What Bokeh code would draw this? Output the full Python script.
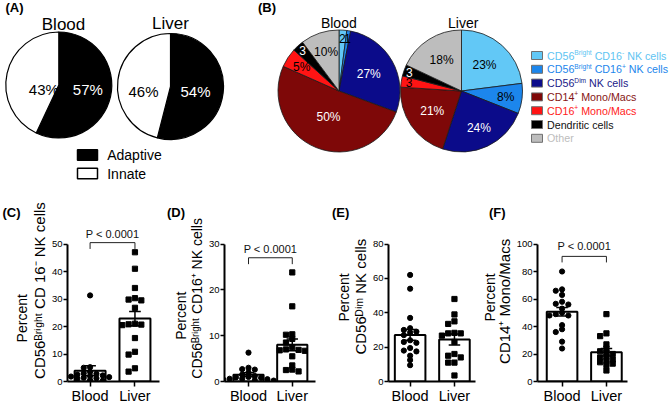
import math
import re
from bokeh.plotting import figure
from bokeh.layouts import column, row
from bokeh.models import Range1d, Label, FixedTicker, ColumnDataSource
from bokeh.embed import file_html
from bokeh.resources import INLINE
from bokeh.core.properties import value

# ---------------- data ----------------
groups = ["Blood", "Liver"]

a_categories = ["Adaptive", "Innate"]
a_blood = [57, 43]
a_liver = [54, 46]

b_categories = ["CD56^{Bright} CD16^{-} NK cells", "CD56^{Bright} CD16^{+} NK cells",
                "CD56^{Dim} NK cells", "CD14^{+} Mono/Macs", "CD16^{+} Mono/Macs",
                "Dendritic cells", "Other"]
b_blood = [2, 1, 27, 50, 5, 3, 10]
b_liver = [23, 8, 24, 21, 3, 3, 18]

c_blood = [31.3, 5.2, 5.0, 3.5, 3.0, 2.8, 2.5, 2.2, 2.0, 1.8, 1.6, 1.4, 1.2, 1.0, 0.8, 0.5, 0.3]
c_liver = [47.0, 41.0, 34.0, 30.3, 29.8, 29.5, 26.8, 21.0, 20.8, 20.7, 20.5, 15.8, 10.8, 9.8, 4.8, 3.6]
c_mean = [3.9, 22.9]
c_sem = [1.8, 2.6]

d_blood = [6.3, 3.0, 2.7, 2.6, 2.0, 1.5, 1.2, 1.0, 0.9, 0.8, 0.6, 0.6, 0.5, 0.4, 0.3, 0.2, 0.2]
d_liver = [23.8, 16.4, 10.3, 10.2, 9.3, 8.5, 7.5, 7.0, 6.9, 6.8, 6.7, 5.5, 3.5, 2.6, 2.5, 2.2]
d_mean = [1.5, 8.0]
d_sem = [0.4, 1.3]

e_blood = [62, 54, 37, 31, 30, 29, 28.5, 27, 24, 23, 22.5, 19.5, 18, 17.5, 15, 12.5, 9.5]
e_liver = [48, 39, 35, 33.5, 28.3, 28, 28, 26.7, 23, 16, 15, 14, 11, 11, 3.5]
e_mean = [27.1, 24.4]
e_sem = [3.1, 3.2]

f_blood = [80, 67, 66, 63, 58, 56.5, 56, 53, 50, 49, 48, 48, 41, 38, 36, 29, 24]
f_liver = [49, 35, 33, 27, 24, 22, 21, 20, 18, 17.5, 16, 15, 14, 13, 12, 8]
f_mean = [50.8, 21.3]
f_sem = [3.1, 2.7]

c_ticks = [0, 10, 20, 30, 40, 50]
d_ticks = [0, 10, 20, 30]
e_ticks = [0, 20, 40, 60, 80]
f_ticks = [0, 20, 40, 60, 80, 100]

y_title_top = "Percent"
y_titles = ["CD56\u1d2e\u02b3\u2071\u1d4d\u02b0\u1d57 CD 16\u207b NK cells",
            "CD56\u1d2e\u02b3\u2071\u1d4d\u02b0\u1d57 CD16\u207a NK cells",
            "CD56\u1d30\u2071\u1d50 NK cells",
            "CD14\u207a Mono/Macs"]
p_labels = ["P < 0.0001", "P < 0.0001", None, "P < 0.0001"]
panel_letters = ["(A)", "(B)", "(C)", "(D)", "(E)", "(F)"]

# ---------------- layout / style ----------------
FONT = "Liberation Sans"
W_TOTAL, H_TOTAL = 669, 409
H1 = 200
H2 = H_TOTAL - H1
ROW2 = float(H1)
Y0, YTOP = 381.0, 243.5

WID = {' ': 278, '(': 333, ')': 333, '+': 584, '-': 333, '.': 278, '/': 278, '<': 584, '%': 889,
       'A': 667, 'B': 667, 'C': 722, 'D': 722, 'E': 667, 'F': 611, 'I': 278, 'K': 667, 'L': 556,
       'M': 833, 'N': 722, 'O': 778, 'P': 667, 'a': 556, 'b': 556, 'c': 500, 'd': 556, 'e': 556,
       'g': 556, 'h': 556, 'i': 222, 'l': 222, 'm': 833, 'n': 556, 'o': 556, 'p': 556, 'r': 333,
       's': 500, 't': 278, 'u': 556, 'v': 500}
for _d in "0123456789":
    WID[_d] = 556


def parse(s):
    bits = re.split(r"\^\{([^}]*)\}", s)
    return [(t, i % 2 == 1) for i, t in enumerate(bits) if t]


def tw(s, size):
    return sum(WID.get(ch, 556) for ch in s) / 1000.0 * size


def rich(fig, x, y, s, size, color, sup=0.62, rise_f=0.28):
    """Horizontal text with superscripts; x, y = start of the text on its middle line."""
    pos = 0.0
    for t, is_sup in parse(s):
        fs = size * sup if is_sup else size
        w = tw(t, fs)
        lead = tw(t[:len(t) - len(t.lstrip())], fs)
        core = t.strip()
        rise = rise_f * size if is_sup else 0.0
        if core:
            fig.add_layout(Label(x=x + pos + lead, y=y + rise, text=core, text_font=FONT,
                                 text_font_size=f"{fs:.2f}px", text_color=color,
                                 text_align="left", text_baseline="middle"))
        pos += w


def simple(fig, x, y, s, size, color="black", align="center", style="normal", angle=0.0):
    fig.add_layout(Label(x=x, y=y, text=s, text_font=FONT, text_font_size=f"{size:.2f}px",
                         text_color=color, text_align=align, text_baseline="middle",
                         text_font_style=style, angle=angle))


def angles(vals):
    tot = float(sum(vals))
    cum = 0.0
    st, en, mid = [], [], []
    for v in vals:
        st.append(math.pi / 2 - 2 * math.pi * cum / tot)
        mid.append(2 * math.pi * (cum + v / 2.0) / tot)
        cum += v
        en.append(math.pi / 2 - 2 * math.pi * cum / tot)
    return st, en, mid


def blank(width, height, xr, yr):
    p = figure(width=width, height=height, x_range=Range1d(*xr), y_range=Range1d(*yr),
               x_axis_type=None, y_axis_type=None, output_backend="svg",
               toolbar_location=None, min_border=0, outline_line_color=None)
    p.background_fill_color = "white"
    p.border_fill_color = "white"
    return p


def yt(ry):          # top-row data y from picture y
    return H1 - ry


def yb(ry):          # bottom-row (side strips) data y from picture y
    return H_TOTAL - ry


# ---------------- (A) ----------------
WA = 225
pa = blank(WA, H1, (0, WA), (0, H1))
A_PIES = [(58.3, 84.5), (170.0, 86.0)]
A_R = 53.0
A_TITLE = [(63.0, 23.5), (170.0, 23.0)]
A_LABEL_DX = [[29.0, -15.0], [25.0, -27.0]]
A_LABEL_DY = 4.5
A_COLORS = ["black", "white"]
A_TEXT = ["white", "black"]
for (cx, cy), vals, name, (tx, ty), dxs in zip(A_PIES, [a_blood, a_liver], groups, A_TITLE, A_LABEL_DX):
    st, en, _ = angles(vals)
    src = ColumnDataSource(dict(start=st, end=en, color=A_COLORS, cat=a_categories))
    pa.wedge(x=cx, y=yt(cy), radius=A_R, start_angle="start", end_angle="end",
             direction="clock", fill_color="color", line_color="black", line_width=1.2, source=src)
    lab = ColumnDataSource(dict(x=[cx + d for d in dxs], y=[yt(cy + A_LABEL_DY)] * len(vals),
                                text=[f"{v}%" for v in vals], color=A_TEXT))
    pa.text(x="x", y="y", text="text", text_color="color", source=lab, text_align="center",
            text_baseline="middle", text_font=value(FONT), text_font_size="15px")
    simple(pa, tx, yt(ty), name, 17)
A_LEG_X, A_LEG_Y, A_LEG_W, A_LEG_H, A_LEG_TX = 87.0, [154.5, 173.0], 20.0, 10.5, 106.7
pa.rect(x=[A_LEG_X] * 2, y=[yt(v) for v in A_LEG_Y], width=A_LEG_W, height=A_LEG_H,
        fill_color=A_COLORS, line_color="black", line_width=1.5)
for yy, name in zip(A_LEG_Y, a_categories):
    simple(pa, A_LEG_TX, yt(yy), name, 14, align="left")
simple(pa, 5, yt(6.7), panel_letters[0], 13, align="left", style="bold")

# ---------------- (B) ----------------
WB = W_TOTAL - WA
pb = blank(WB, H1, (WA, W_TOTAL), (0, H1))
B_PIES = [(338.5, 90.5), (461.0, 90.5)]
B_R = 61.0
B_TITLE = [(338.3, 22.7), (462.7, 22.7)]
B_COLORS = ["#62C8F6", "#1C86EC", "#0B0B8A", "#7E0808", "#FF1414", "#000000", "#BDBDBD"]
B_TEXT_COLORS = ["#5EC4F2", "#1C86EC", "#1A1A88", "#861414", "#FF1A1A", "#111111", "#BDBDBD"]
B_LABEL_R = [[0.87, 0.88, 0.56, 0.46, 0.73, 0.89, 0.67],
             [0.57, 0.73, 0.67, 0.58, 0.87, 0.91, 0.61]]


def lum(h):
    r, g, b = int(h[1:3], 16), int(h[3:5], 16), int(h[5:7], 16)
    return (0.299 * r + 0.587 * g + 0.114 * b) / 255.0


for (cx, cy), vals, name, (tx, ty), rf in zip(B_PIES, [b_blood, b_liver], groups, B_TITLE, B_LABEL_R):
    st, en, mid = angles(vals)
    src = ColumnDataSource(dict(start=st, end=en, color=B_COLORS, cat=b_categories))
    pb.wedge(x=cx, y=yt(cy), radius=B_R, start_angle="start", end_angle="end",
             direction="clock", fill_color="color", line_color="#1a1a1a", line_width=0.8, source=src)
    lx = [cx + B_R * f * math.sin(m) for f, m in zip(rf, mid)]
    ly = [yt(cy) + B_R * f * math.cos(m) for f, m in zip(rf, mid)]
    txt = [f"{v}%" if v > 3 else f"{v}" for v in vals]
    tcol = ["white" if lum(c) < 0.3 else "black" for c in B_COLORS]
    lab = ColumnDataSource(dict(x=lx, y=ly, text=txt, color=tcol))
    pb.text(x="x", y="y", text="text", text_color="color", source=lab, text_align="center",
            text_baseline="middle", text_font=value(FONT), text_font_size="12px")
    simple(pb, tx, yt(ty), name, 14)

B_LEG_X, B_LEG_Y0, B_LEG_DY, B_LEG_W, B_LEG_H, B_LEG_TX = 536.5, 55.0, 13.8, 11.0, 8.0, 546.5
leg_y = [B_LEG_Y0 + i * B_LEG_DY for i in range(len(b_categories))]
pb.rect(x=[B_LEG_X] * len(leg_y), y=[yt(v) for v in leg_y], width=B_LEG_W,
        height=B_LEG_H, fill_color=B_COLORS, line_color="#707070", line_width=1)
LEG_FS = 10.7
for yy, name, col in zip(leg_y, b_categories, B_TEXT_COLORS):
    rich(pb, B_LEG_TX, yt(yy), name, LEG_FS, col)
simple(pb, 257.5, yt(6.7), panel_letters[1], 13, align="left", style="bold")

# ---------------- (C)-(F) ----------------
PANELS = [
    dict(x0=0.0, w=160, side=48, axis=65.0, fr=158.7, bx=88.0, lx=133.7, t2_fs=15,
         pct=(21.7, 336.0), t2=(38.5, 304.0), letter=(2.0, 214.0), br=(50.5, 48.2, 53.6)),
    dict(x0=160.0, w=170, side=45, axis=221.0, fr=315.0, bx=245.8, lx=291.0, t2_fs=14,
         pct=(180.5, 333.0), t2=(196.8, 313.0), letter=(166.5, 214.0), br=(27.0, 25.6, 28.9)),
    dict(x0=330.0, w=150, side=39, axis=385.0, fr=474.7, bx=407.3, lx=453.0, t2_fs=15,
         pct=(343.0, 312.0), t2=(360.3, 311.0), letter=(331.5, 214.0), br=None),
    dict(x0=480.0, w=189, side=33, axis=534.0, fr=626.7, bx=559.3, lx=605.0, t2_fs=15,
         pct=(489.0, 312.0), t2=(504.3, 316.5), letter=(488.5, 214.0), br=(91.0, 86.6, 98.6)),
]
SERIES = [(c_blood, c_liver, c_mean, c_sem, c_ticks), (d_blood, d_liver, d_mean, d_sem, d_ticks),
          (e_blood, e_liver, e_mean, e_sem, e_ticks), (f_blood, f_liver, f_mean, f_sem, f_ticks)]


def swarm(vals, ppx, ppy, step_px=6.5, dy_lim=4.0):
    placed, offs = [], []
    cands = [0] + [s * i for i in range(1, 12) for s in (-1, 1)]
    for v in vals:
        y = v * ppy
        xo = 0.0
        for c in cands:
            xo = c * step_px
            if all(abs(y - py) >= dy_lim or abs(xo - pxx) >= step_px * 0.9 for pxx, py in placed):
                break
        placed.append((xo, y))
        offs.append(xo / ppx)
    return offs


bottom_figs = []
for L, (bl, lv, means, sems, ticks), ytitle, ptext, letter in zip(PANELS, SERIES, y_titles, p_labels, panel_letters[2:]):
    # side strip with the rotated y titles and the panel letter
    side = blank(L["side"], H2, (L["x0"], L["x0"] + L["side"]), (0, H2))
    simple(side, L["pct"][0], yb(L["pct"][1]), y_title_top, 14, angle=math.pi / 2)
    simple(side, L["t2"][0], yb(L["t2"][1]), ytitle, L["t2_fs"], angle=math.pi / 2)
    simple(side, L["letter"][0], yb(L["letter"][1]), letter, 13, align="left", style="bold")
    bottom_figs.append(side)

    px0 = L["x0"] + L["side"]
    width = L["w"] - L["side"]
    left = int(round(L["axis"] - px0))
    right = int(round(L["x0"] + L["w"] - L["fr"]))
    bottom = int(round(H_TOTAL - Y0))
    k = ticks[-1] / (Y0 - YTOP)
    y_end = (Y0 - ROW2) * k
    unit = L["lx"] - L["bx"]
    xs = 1 - (L["bx"] - L["axis"]) / unit
    xe = 2 + (L["fr"] - L["lx"]) / unit
    p = figure(width=width, height=H2, x_range=Range1d(xs, xe), y_range=Range1d(0, y_end),
               output_backend="svg", toolbar_location=None, min_border_left=left,
               min_border_right=right, min_border_top=0, min_border_bottom=bottom)
    p.outline_line_color = None
    p.grid.visible = False
    p.background_fill_color = "white"
    p.border_fill_color = "white"
    fw, fh = width - left - right, H2 - bottom
    ppx, ppy = fw / (xe - xs), fh / y_end

    xpos = [1, 2]
    src = ColumnDataSource(dict(x=xpos, top=means, sem=sems, group=groups,
                                lo=[m - s for m, s in zip(means, sems)],
                                hi=[m + s for m, s in zip(means, sems)],
                                c0=[x - 0.13 for x in xpos], c1=[x + 0.13 for x in xpos]))
    p.vbar(x="x", top="top", bottom=0, width=0.69, fill_color="white", line_color="black",
           line_width=2, source=src)
    for pts, xc, marker in ((bl, 1, "circle"), (lv, 2, "square")):
        offs = swarm(pts, ppx, ppy)
        p.scatter(x=[xc + o for o in offs], y=pts, marker=marker, size=5.2,
                  fill_color="black", line_color="black")
    p.segment(x0="x", y0="lo", x1="x", y1="hi", line_color="black", line_width=1.5, source=src)
    p.segment(x0="c0", y0="hi", x1="c1", y1="hi", line_color="black", line_width=1.5, source=src)
    p.segment(x0="c0", y0="lo", x1="c1", y1="lo", line_color="black", line_width=1.5, source=src)

    if ptext and L["br"]:
        by, tb, ty = L["br"]
        p.line(x=[1, 1, 2, 2], y=[tb, by, by, tb], line_color="#222222", line_width=1)
        p.text(x=[1.5], y=[ty], text=[ptext], text_align="center", text_baseline="middle",
               text_font=value(FONT), text_font_size="11px", text_color="#111111")

    for ax in (p.xaxis[0], p.yaxis[0]):
        ax.axis_line_width = 2
        ax.axis_line_color = "black"
        ax.major_tick_line_width = 1.5
        ax.major_tick_line_color = "black"
        ax.major_tick_in = 0
        ax.minor_tick_line_color = None
        ax.major_label_text_font = FONT
        ax.major_label_text_color = "black"
    p.yaxis.ticker = FixedTicker(ticks=ticks)
    p.yaxis.bounds = (0, ticks[-1])
    p.yaxis.major_tick_out = 4
    p.yaxis.major_label_text_font_size = "9.5px"
    p.yaxis.major_label_standoff = 1
    p.xaxis.ticker = FixedTicker(ticks=xpos)
    p.xaxis.major_label_overrides = {x: g for x, g in zip(xpos, groups)}
    p.xaxis.major_tick_out = 5
    p.xaxis.major_label_text_font_size = "14.5px"
    p.xaxis.major_label_standoff = 1
    bottom_figs.append(p)

layout = column(row(pa, pb), row(*bottom_figs))
open("out.html", "w").write(file_html(layout, INLINE))
